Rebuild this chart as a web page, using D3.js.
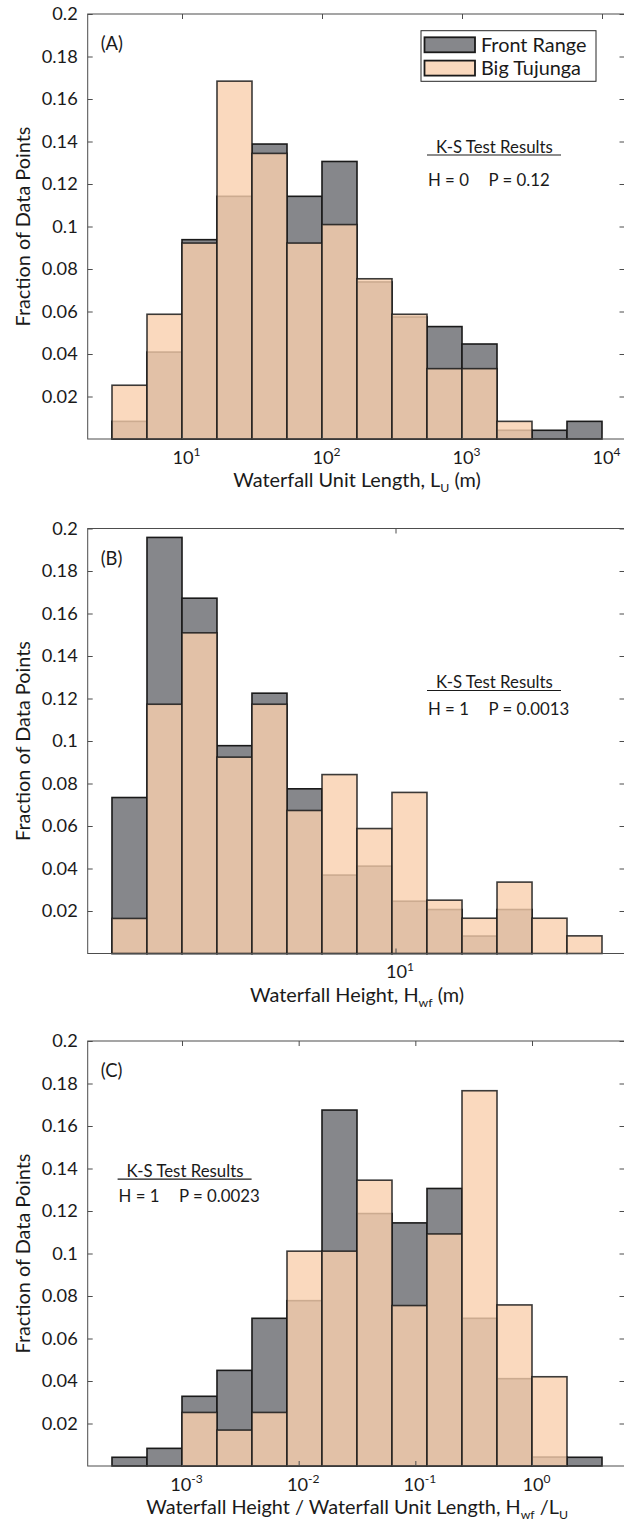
<!DOCTYPE html>
<html>
<head>
<meta charset="utf-8">
<script src="https://cdn.jsdelivr.net/npm/d3@7"></script>
<style>
  body { margin: 0; background: #fff; }
  svg { display: block; }
  text { font-family: Lato, "Noto Sans", sans-serif; fill: #1a1a1a; }
</style>
</head>
<body>
<svg id="chart" width="624" height="1525"></svg>
<script>
// ---- data (fractions of data points per log bin) ----
const seriesNames = ["Front Range", "Big Tujunga"];

// (A) waterfall unit length, m
const edgesA = [3.162, 5.623, 10, 17.78, 31.62, 56.23, 100, 177.8, 316.2, 562.3, 1000, 1778, 3162, 5623, 10000];
const frontA = [0.0083, 0.0409, 0.0938, 0.1142, 0.1388, 0.1142, 0.1306, 0.0739, 0.0574, 0.0529, 0.0447, 0.0041, 0.0041, 0.0083];
const tujungaA = [0.0253, 0.0587, 0.0922, 0.1684, 0.1344, 0.0922, 0.1009, 0.0754, 0.0587, 0.0331, 0.0331, 0.0083, 0, 0];
const ticksA = [10, 100, 1000, 10000];

// (B) waterfall height, m
const edgesB = [1.549, 1.950, 2.455, 3.090, 3.890, 4.898, 6.166, 7.762, 9.772, 12.30, 15.49, 19.50, 24.55, 30.90, 38.90];
const frontB = [0.0734, 0.1958, 0.1672, 0.0978, 0.1225, 0.0775, 0.0369, 0.0411, 0.0246, 0.0207, 0.0082, 0.0207, 0, 0];
const tujungaB = [0.0165, 0.1173, 0.1509, 0.0924, 0.1173, 0.0673, 0.0842, 0.0588, 0.0758, 0.0251, 0.0166, 0.0336, 0.0166, 0.0083];
const ticksB = [10];

// (C) height / unit length
const edgesC = [0.0002512, 0.0005012, 0.001, 0.001995, 0.003981, 0.007943, 0.01585, 0.03162, 0.0631, 0.1259, 0.2512, 0.5012, 1, 1.995, 3.981];
const frontC = [0.0041, 0.0083, 0.0328, 0.045, 0.0695, 0.0778, 0.1675, 0.1188, 0.1144, 0.1306, 0.0695, 0.0411, 0.0042, 0.0041];
const tujungaC = [0, 0, 0.0252, 0.0169, 0.0252, 0.1011, 0.1011, 0.1345, 0.0755, 0.1092, 0.1766, 0.0758, 0.042, 0];
const ticksC = [0.001, 0.01, 0.1, 1];

const yTicks = [0.02, 0.04, 0.06, 0.08, 0.1, 0.12, 0.14, 0.16, 0.18, 0.2];
const ksResults = [["H = 0", "P = 0.12"], ["H = 1", "P = 0.0013"], ["H = 1", "P = 0.0023"]];

// ---- layout ----
const svg = d3.select("#chart");
const axLeft = 87.7, axRight = 624.5, binLeft = 112, binRight = 602;
const plotH = 425;
const darkFill = "#86878b", lightFill = "rgb(249,208,174)";
const axisColor = "#4d4d4d";

// pick a font size so that a sample string spans the width seen in the figure
function fitSize(str, width) {
  const t = svg.append("text").attr("font-size", 20).text(str);
  const w = t.node().getComputedTextLength();
  t.remove();
  return 20 * width / w;
}
const tickSize = fitSize("0.18", 36);
const labelSize = fitSize("Fraction of Data Points", 200);
const noteSize = fitSize("K-S Test Results", 117);
const legendSize = fitSize("Front Range", 105.5);
const letterSize = fitSize("(A)", 22.3);

const panels = [
  { letter: "(A)", top: 14, edges: edgesA, front: frontA, tujunga: tujungaA, ticks: ticksA,
    xlabel: [["Waterfall Unit Length, L", ""], ["U", "sub"], [" (m)", ""]],
    ks: { x: 428, title: 138.5, line: 172 }, ks_i: 0, legend: true },
  { letter: "(B)", top: 528.5, edges: edgesB, front: frontB, tujunga: tujungaB, ticks: ticksB,
    xlabel: [["Waterfall Height, H", ""], ["wf", "sub"], [" (m)", ""]],
    ks: { x: 428, title: 159.5, line: 186 }, ks_i: 1 },
  { letter: "(C)", top: 1041, edges: edgesC, front: frontC, tujunga: tujungaC, ticks: ticksC,
    xlabel: [["Waterfall Height / Waterfall Unit Length, H", ""], ["wf", "sub"], [" /L", ""], ["U", "sub"]],
    ks: { x: 118.6, title: 135.7, line: 160.7 }, ks_i: 2 }
];

panels.forEach(p => {
  const g = svg.append("g").attr("transform", `translate(0,${p.top})`);
  const n = p.edges.length - 1;

  const x = d3.scaleLog()
    .domain([p.edges[0], p.edges[n]])
    .range([binLeft, binRight]);
  const y = d3.scaleLinear().domain([0, 0.2]).range([plotH, 0]);

  const bins = d3.range(n).map(i => ({
    x0: p.edges[i], x1: p.edges[i + 1], front: p.front[i], tujunga: p.tujunga[i]
  }));

  // Front Range first, Big Tujunga on top with transparency
  g.append("g").selectAll("rect")
    .data(bins.filter(d => d.front > 0))
    .join("rect")
    .attr("x", d => x(d.x0))
    .attr("y", d => y(d.front))
    .attr("width", d => x(d.x1) - x(d.x0))
    .attr("height", d => plotH - y(d.front))
    .attr("fill", darkFill)
    .attr("stroke", "#1a1a1a")
    .attr("stroke-width", 1.6);

  g.append("g").selectAll("rect")
    .data(bins.filter(d => d.tujunga > 0))
    .join("rect")
    .attr("x", d => x(d.x0))
    .attr("y", d => y(d.tujunga))
    .attr("width", d => x(d.x1) - x(d.x0))
    .attr("height", d => plotH - y(d.tujunga))
    .attr("fill", lightFill)
    .attr("fill-opacity", 0.8)
    .attr("stroke", "#1a1a1a")
    .attr("stroke-opacity", 0.85)
    .attr("stroke-width", 1.6);

  // axes (ticks pointing inward, box)
  const gx = g.append("g")
    .attr("transform", `translate(0,${plotH})`)
    .attr("color", axisColor)
    .call(d3.axisBottom(x).tickValues(p.ticks).tickSizeInner(-5).tickSizeOuter(0).tickFormat(""));
  gx.select(".domain").remove();
  gx.selectAll(".tick text").remove();
  const lab = gx.selectAll(".tick").append("text")
    .attr("x", 4)
    .attr("y", 24.5)
    .attr("text-anchor", "middle")
    .attr("font-size", tickSize);
  lab.append("tspan").text("10");
  lab.append("tspan")
    .attr("dy", -7.5)
    .attr("font-size", tickSize * 0.66)
    .text(d => Math.round(Math.log10(d)));

  const gt = g.append("g")
    .attr("color", axisColor)
    .call(d3.axisTop(x).tickValues(p.ticks).tickSizeInner(-5).tickSizeOuter(0).tickFormat(""));
  gt.select(".domain").remove();

  const gy = g.append("g")
    .attr("transform", `translate(${axLeft},0)`)
    .attr("color", axisColor)
    .call(d3.axisLeft(y).tickValues(yTicks).tickSizeInner(-5).tickSizeOuter(0).tickPadding(10)
      .tickFormat(d => String(+d.toFixed(2))));
  gy.select(".domain").remove();
  gy.selectAll("text").attr("font-size", tickSize).attr("fill", "#1a1a1a");

  const gr = g.append("g")
    .attr("transform", `translate(${axRight},0)`)
    .attr("color", axisColor)
    .call(d3.axisRight(y).tickValues(yTicks).tickSizeInner(-5).tickSizeOuter(0).tickFormat(""));
  gr.select(".domain").remove();

  g.append("rect")
    .attr("x", axLeft).attr("y", 0)
    .attr("width", axRight - axLeft).attr("height", plotH)
    .attr("fill", "none")
    .attr("stroke", axisColor)
    .attr("stroke-width", 1);

  // axis labels
  const xl = g.append("text")
    .attr("x", (axLeft + axRight) / 2 + 1)
    .attr("y", plotH + 48)
    .attr("text-anchor", "middle")
    .attr("font-size", labelSize);
  p.xlabel.forEach(([t, kind], i) => {
    const ts = xl.append("tspan").text(t);
    if (kind === "sub") ts.attr("font-size", labelSize * 0.62).attr("dy", 5);
    else if (i > 0) ts.attr("dy", -5);
  });

  g.append("text")
    .attr("transform", `translate(29.5,${plotH / 2}) rotate(-90)`)
    .attr("text-anchor", "middle")
    .attr("font-size", labelSize)
    .text("Fraction of Data Points");

  g.append("text")
    .attr("x", 100.7).attr("y", 36)
    .attr("font-size", letterSize)
    .text(p.letter);

  // K-S annotation
  const ks = ksResults[p.ks_i];
  g.append("text")
    .attr("x", p.ks.x + 8).attr("y", p.ks.title)
    .attr("font-size", noteSize)
    .text("K-S Test Results");
  g.append("line")
    .attr("x1", p.ks.x - 1).attr("x2", p.ks.x + 133)
    .attr("y1", p.ks.title + 2.5).attr("y2", p.ks.title + 2.5)
    .attr("stroke", "#1a1a1a").attr("stroke-width", 1.2);
  g.append("text")
    .attr("x", p.ks.x).attr("y", p.ks.line)
    .attr("font-size", noteSize)
    .text(ks[0]);
  g.append("text")
    .attr("x", p.ks.x + 60.5).attr("y", p.ks.line)
    .attr("font-size", noteSize)
    .text(ks[1]);

  // legend (panel A only)
  if (p.legend) {
    const lg = g.append("g").attr("transform", "translate(421,16.7)");
    lg.append("rect")
      .attr("width", 175).attr("height", 50.6)
      .attr("fill", "#fff").attr("stroke", "#262626").attr("stroke-width", 1);
    [darkFill, "rgb(250,217,190)"].forEach((c, i) => {
      lg.append("rect")
        .attr("x", 3.5).attr("y", 6.6 + i * 23.3)
        .attr("width", 50.5).attr("height", 15)
        .attr("fill", c).attr("stroke", "#1a1a1a").attr("stroke-width", 1.8);
      lg.append("text")
        .attr("x", 60).attr("y", 21.5 + i * 23.3)
        .attr("font-size", legendSize)
        .text(seriesNames[i]);
    });
  }
});
</script>
</body>
</html>
